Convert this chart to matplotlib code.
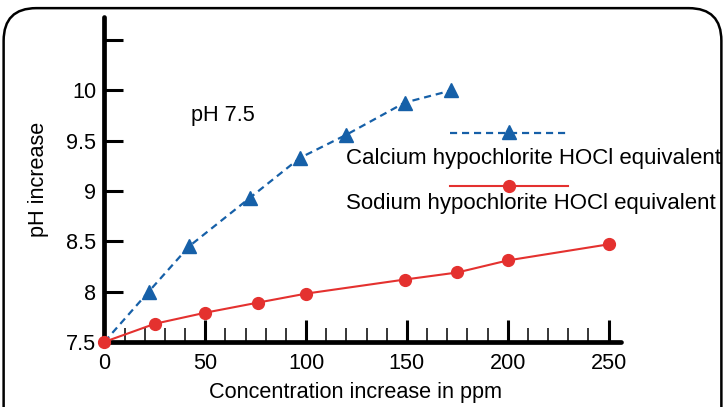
import matplotlib
matplotlib.use("Agg")
import matplotlib.pyplot as plt
from matplotlib.patches import FancyBboxPatch
from matplotlib.lines import Line2D

plt.rcParams['font.family'] = ['Liberation Sans', 'DejaVu Sans']

# calcium hypochlorite (blue, dashed, triangles)
ca_x = [0, 22, 42, 72, 97, 120, 149, 172]
ca_y = [7.5, 8.0, 8.45, 8.93, 9.33, 9.56, 9.88, 10.0]
# sodium hypochlorite (red, solid, circles)
na_x = [0, 25, 50, 76, 100, 149, 175, 200, 250]
na_y = [7.5, 7.68, 7.79, 7.89, 7.98, 8.12, 8.19, 8.31, 8.47]

xticks = [0, 50, 100, 150, 200, 250]
yticks = [7.5, 8, 8.5, 9, 9.5, 10, 10.5]
ylabels = ['7.5', '8', '8.5', '9', '9.5', '10', '']

blue = '#1660a8'
red = '#e4312f'
fs = 15.6

fig = plt.figure(figsize=(7.25, 4.07), dpi=100)
ax = fig.add_axes([0.144, 0.16, 0.712, 0.798])

# rounded frame around the whole picture (bottom edge runs off the image)
frame = FancyBboxPatch((0.005, -0.2), 0.99, 1.18, boxstyle="round,pad=0,rounding_size=0.045",
                       transform=fig.transFigure, fill=False, edgecolor='black', linewidth=1.8,
                       mutation_aspect=725 / 407, clip_on=False)
fig.patches.append(frame)

ax.plot(ca_x, ca_y, color=blue, linestyle=(0, (3.2, 2.2)), linewidth=1.6,
        marker='^', markersize=10.5, markevery=list(range(1, len(ca_x))), clip_on=False, zorder=4)
ax.plot(na_x, na_y, color=red, linewidth=1.5, marker='o', markersize=8.5, clip_on=False, zorder=5)

ax.set_xlim(0, 256)
ax.set_ylim(7.5, 10.73)
for s in ['top', 'right']:
    ax.spines[s].set_visible(False)
for s in ['left', 'bottom']:
    ax.spines[s].set_linewidth(3.4)
    ax.spines[s].set_capstyle('round')

ax.set_xticks(xticks)
ax.set_xticks(range(10, 251, 10), minor=True)
ax.set_yticks(yticks)
ax.set_yticklabels(ylabels)
ax.tick_params(axis='x', which='major', direction='in', length=16, width=2.2, labelsize=fs, pad=8)
ax.tick_params(axis='x', which='minor', direction='in', length=10, width=1.1)
ax.tick_params(axis='y', which='major', direction='in', length=14, width=2.2, labelsize=fs, pad=6)

ax.set_xlabel('Concentration increase in ppm', fontsize=fs, labelpad=7)
ax.xaxis.set_label_coords(0.487, -0.125)
ax.set_ylabel('pH increase', fontsize=fs, labelpad=12)

ax.text(0.168, 0.698, 'pH 7.5', transform=ax.transAxes, fontsize=fs, va='center')

# hand-drawn legend
h1 = Line2D([0.67, 0.898], [0.643, 0.643], transform=ax.transAxes, color=blue,
            linestyle=(0, (3.2, 2.2)), linewidth=1.6)
h1m = Line2D([0.784], [0.647], transform=ax.transAxes, color=blue, marker='^', markersize=10.5)
h2 = Line2D([0.67, 0.898], [0.48, 0.48], transform=ax.transAxes, color=red, linewidth=1.5)
h2m = Line2D([0.784], [0.48], transform=ax.transAxes, color=red, marker='o', markersize=8.5)
for h in [h1, h1m, h2, h2m]:
    h.set_clip_on(False)
    ax.add_line(h)
ax.text(0.469, 0.566, 'Calcium hypochlorite HOCl equivalent', transform=ax.transAxes,
        fontsize=16, va='center')
ax.text(0.469, 0.425, 'Sodium hypochlorite HOCl equivalent', transform=ax.transAxes,
        fontsize=16, va='center')

fig.savefig('out.png', dpi=100)
